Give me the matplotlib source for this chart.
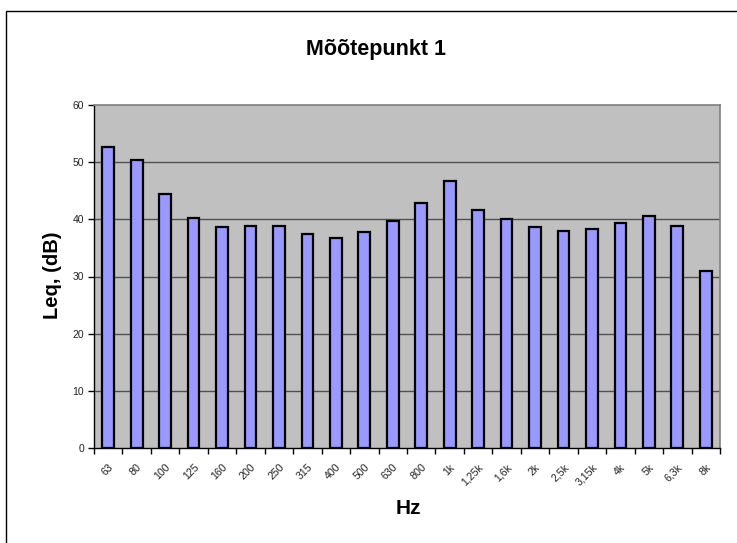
import matplotlib
matplotlib.use("Agg")
import matplotlib.pyplot as plt
from matplotlib.patches import Rectangle
import numpy as np

plt.rcParams['font.family'] = ['Liberation Sans', 'DejaVu Sans']

categories = ["63", "80", "100", "125", "160", "200", "250", "315", "400", "500", "630",
              "800", "1k", "1,25k", "1,6k", "2k", "2,5k", "3,15k", "4k", "5k", "6,3k", "8k"]
values = [52.6, 50.3, 44.5, 40.3, 38.7, 38.9, 38.9, 37.5, 36.7, 37.8, 39.7,
          42.9, 46.7, 41.7, 40.1, 38.7, 38.0, 38.3, 39.4, 40.5, 38.9, 31.0]
yticks = [0, 10, 20, 30, 40, 50, 60]

fig = plt.figure(figsize=(7.37, 5.43), dpi=100)
ax = fig.add_axes([94/737, 1-448/543, (720-94)/737, (448-105)/543])

# outer chart border
fig.patches.append(Rectangle((6/737, -0.1), 1.2, 1 - 11/543 + 0.1, transform=fig.transFigure,
                             fill=False, edgecolor='black', linewidth=1.0))

ax.set_facecolor('#C0C0C0')
x = np.arange(len(categories))
ax.bar(x, values, width=0.41, color='#9999FF', edgecolor='black', linewidth=1.6, zorder=3)

ax.set_xlim(-0.5, len(categories) - 0.5)
ax.set_ylim(0, 60)
ax.set_yticks(yticks)
ax.set_yticklabels([str(v) for v in yticks], fontsize=7.5, color='#222222')
for v in yticks[1:-1]:
    ax.axhline(v, color='#505050', linewidth=1.0, zorder=1)

ax.set_xticks(x)
ax.set_xticklabels(categories, fontsize=7.7, rotation=45, ha='right', rotation_mode='anchor',
                   color='#222222')
ax.set_xticks(np.arange(len(categories) + 1) - 0.5, minor=True)
ax.tick_params(axis='x', which='major', length=0, pad=10)
ax.tick_params(axis='x', which='minor', length=4, direction='out', width=1, color='black')
ax.tick_params(axis='y', length=4, direction='out', width=1, color='black', pad=3)

for s in ['top', 'right']:
    ax.spines[s].set_color('#808080')
    ax.spines[s].set_linewidth(1.2)
for s in ['left', 'bottom']:
    ax.spines[s].set_color('black')
    ax.spines[s].set_linewidth(1.0)

fig.text(376/737, 1-50/543, "Mõõtepunkt 1", ha='center', va='center', fontsize=15.5, fontweight='bold')
fig.text(53/737, 1-275/543, "Leq, (dB)", ha='center', va='center', rotation=90, fontsize=14.5, fontweight='bold')
fig.text(408/737, 1-508/543, "Hz", ha='center', va='center', fontsize=15, fontweight='bold')

fig.savefig("out.png", dpi=100)
